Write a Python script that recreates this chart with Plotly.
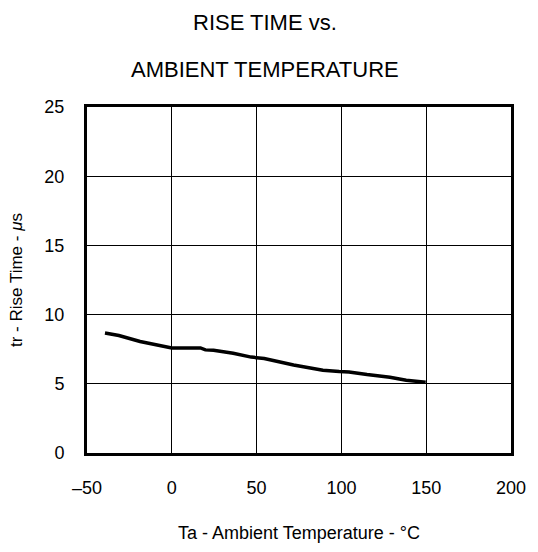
import plotly.graph_objects as go

temp = [-39.4, -31.2, -18.7, 0, 16.9, 19.8, 24.6, 36.2, 46.8, 54.5, 71.8, 89.1, 98.7, 104.5, 115.1, 128.6, 138.2, 149.7]
rise = [8.67, 8.49, 8.06, 7.59, 7.59, 7.45, 7.42, 7.21, 6.93, 6.83, 6.36, 5.98, 5.89, 5.86, 5.67, 5.48, 5.25, 5.11]

x_ticks = [-50, 0, 50, 100, 150, 200]
x_labels = ["\u201350", "0", "50", "100", "150", "200"]
y_ticks = [0, 5, 10, 15, 20, 25]

FONT = "Liberation Sans, Arial, sans-serif"

L, R, T, B = 87, 18, 107, 90
W, H = 538, 552
PW, PH = W - L - R, H - T - B


def px_to_paper_x(px):
    return (px - L) / PW


def px_to_paper_y(py):
    return (H - B - py) / PH


fig = go.Figure()
fig.add_trace(go.Scatter(x=temp, y=rise, mode="lines",
                         line=dict(color="black", width=3.5), showlegend=False,
                         hoverinfo="skip"))

fig.update_layout(
    width=W, height=H,
    margin=dict(l=L, r=R, t=T, b=B),
    paper_bgcolor="white", plot_bgcolor="white",
    font=dict(family=FONT, color="black", size=18),
)
fig.add_annotation(text="RISE TIME vs.", xref="paper", yref="paper", x=px_to_paper_x(269),
                   y=px_to_paper_y(20), showarrow=False, font=dict(size=22), yanchor="middle")
fig.add_annotation(text="AMBIENT TEMPERATURE", xref="paper", yref="paper", x=px_to_paper_x(269),
                   y=px_to_paper_y(69), showarrow=False, font=dict(size=22), yanchor="middle")

fig.update_xaxes(range=[-50, 200], tickvals=x_ticks, ticktext=x_labels,
                 showgrid=True, gridcolor="black", gridwidth=1,
                 showline=True, linecolor="black", linewidth=3, mirror=True,
                 zeroline=False, ticks="outside", ticklen=16, tickcolor="rgba(0,0,0,0)",
                 title=dict(text="Ta - Ambient Temperature - °C", standoff=30,
                            font=dict(size=18)),
                 tickfont=dict(size=18))
fig.update_yaxes(range=[0, 25], tickvals=y_ticks,
                 showgrid=True, gridcolor="black", gridwidth=1,
                 showline=True, linecolor="black", linewidth=3, mirror=True,
                 zeroline=False, ticks="outside", ticklen=16, tickcolor="rgba(0,0,0,0)",
                 title=dict(text="tr - Rise Time - <i>μ</i>s", standoff=18,
                            font=dict(size=17)),
                 tickfont=dict(size=18))

fig.write_html("out.html")
